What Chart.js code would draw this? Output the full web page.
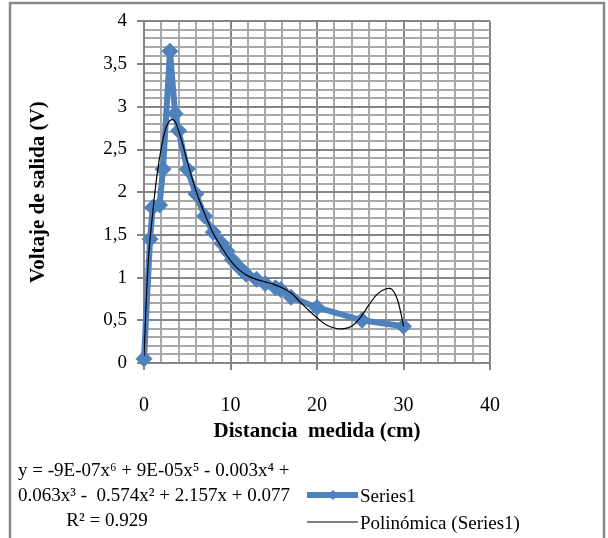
<!DOCTYPE html>
<html>
<head>
<meta charset="utf-8">
<script src="https://cdn.jsdelivr.net/npm/chart.js@4/dist/chart.umd.min.js"></script>
<style>
  html, body { margin: 0; padding: 0; background: #fff; }
  #wrap { width: 608px; height: 538px; }
</style>
</head>
<body>
<div id="wrap"><canvas id="grafico" width="608" height="538"></canvas></div>
<script>
// datos medidos (Series1)
const distancia = [0, 0.7, 1, 1.8, 2.2, 3, 3.6, 4, 5, 6, 7, 8, 9, 9.6, 10.2, 11, 11.8, 13, 14, 15.2, 15.8, 17, 20, 25.2, 30];
const voltaje = [0.05, 1.45, 1.82, 1.85, 2.27, 3.65, 2.92, 2.72, 2.27, 1.98, 1.72, 1.53, 1.40, 1.31, 1.21, 1.12, 1.04, 0.98, 0.93, 0.88, 0.86, 0.77, 0.65, 0.50, 0.43];

// linea de tendencia polinomica
const tendX = [0, 0.5, 1, 1.5, 2, 2.5, 3, 3.5, 4, 4.5, 5, 6, 7, 8, 9, 10, 11, 12, 13, 14, 15, 16, 17, 18, 19, 20, 21, 22, 23, 24, 25, 26, 27, 28, 28.7, 29.3, 29.7, 30];
const tendY = [0.08, 1.2, 1.75, 2.2, 2.52, 2.74, 2.84, 2.84, 2.72, 2.55, 2.36, 2.02, 1.75, 1.52, 1.35, 1.2, 1.09, 1.02, 0.98, 0.95, 0.92, 0.88, 0.82, 0.72, 0.62, 0.53, 0.45, 0.41, 0.40, 0.43, 0.53, 0.68, 0.81, 0.87, 0.86, 0.74, 0.58, 0.43];

const ejeXTicks = [0, 10, 20, 30, 40];
const ejeYTicks = [0, 0.5, 1, 1.5, 2, 2.5, 3, 3.5, 4];

const ecuacion = [
  "y = -9E-07x\u2076 + 9E-05x\u2075 - 0.003x\u2074 +",
  "0.063x\u00b3 -  0.574x\u00b2 + 2.157x + 0.077",
  "R\u00b2 = 0.929"
];

const azul = "#4f81bd";
const fuente = "'Liberation Serif', 'Times New Roman', serif";

function esMayorX(v) { return ejeXTicks.some(t => Math.abs(t - v) < 1e-6); }
function esMayorY(v) { return ejeYTicks.some(t => Math.abs(t - v) < 1e-6); }

// marco, ecuacion y leyenda dibujados a mano
const extras = {
  id: "extras",
  afterDraw(chart) {
    const ctx = chart.ctx;
    ctx.save();
    ctx.strokeStyle = "#878787";
    ctx.lineWidth = 2.5;
    ctx.strokeRect(10, 3, 594, 560);

    ctx.fillStyle = "#000";
    ctx.font = "19px " + fuente;
    ctx.textBaseline = "alphabetic";
    ctx.textAlign = "left";
    ctx.fillText(ecuacion[0], 18, 476);
    ctx.fillText(ecuacion[1], 18, 501);
    ctx.textAlign = "center";
    ctx.fillText(ecuacion[2], 107, 526);

    // leyenda
    const ds = chart.data.datasets;
    const filas = [495, 522];
    ds.forEach((d, i) => {
      const y = filas[i];
      ctx.strokeStyle = d.borderColor;
      ctx.lineWidth = d.borderWidth;
      ctx.beginPath();
      ctx.moveTo(307, y);
      ctx.lineTo(358, y);
      ctx.stroke();
      if (d.pointRadius > 0) {
        ctx.fillStyle = d.borderColor;
        ctx.beginPath();
        ctx.moveTo(333, y - 5);
        ctx.lineTo(338, y);
        ctx.lineTo(333, y + 5);
        ctx.lineTo(328, y);
        ctx.closePath();
        ctx.fill();
      }
      ctx.fillStyle = "#000";
      ctx.textAlign = "left";
      ctx.font = "19px " + fuente;
      ctx.fillText(d.label, 360, y + 7);
    });
    ctx.restore();
  }
};

new Chart(document.getElementById("grafico"), {
  type: "scatter",
  data: {
    datasets: [
      {
        label: "Series1",
        data: distancia.map((x, i) => ({ x: x, y: voltaje[i] })),
        showLine: true,
        borderColor: azul,
        backgroundColor: azul,
        borderWidth: 6,
        pointStyle: "rectRot",
        pointRadius: 8,
        pointBackgroundColor: azul,
        pointBorderColor: azul,
        pointBorderWidth: 1,
        clip: false,
        order: 2
      },
      {
        label: "Polinómica (Series1)",
        data: tendX.map((x, i) => ({ x: x, y: tendY[i] })),
        showLine: true,
        borderColor: "#000",
        borderWidth: 1.2,
        pointRadius: 0,
        tension: 0.4,
        order: 1
      }
    ]
  },
  options: {
    responsive: false,
    animation: false,
    layout: { padding: { left: 10, top: 16, right: 118, bottom: 90 } },
    plugins: {
      legend: { display: false },
      tooltip: { enabled: false }
    },
    scales: {
      x: {
        type: "linear",
        min: 0,
        max: 40,
        afterFit: s => { s.height = 85; },
        ticks: {
          stepSize: 2,
          autoSkip: false,
          maxRotation: 0,
          padding: 24,
          color: "#000",
          font: { family: fuente, size: 20 },
          callback: v => esMayorX(v) ? String(v) : ""
        },
        grid: {
          color: c => esMayorX(c.tick.value) ? "#858585" : "#a9a9a9",
          lineWidth: 2,
          tickLength: 7,
          tickColor: c => esMayorX(c.tick.value) ? "#858585" : "rgba(0,0,0,0)"
        },
        border: { color: "#858585", width: 2 },
        title: {
          display: true,
          text: "Distancia  medida (cm)",
          color: "#000",
          font: { family: fuente, size: 21, weight: "bold" },
          padding: { top: 0, bottom: 4 }
        }
      },
      y: {
        min: 0,
        max: 4,
        afterFit: s => { s.width = 134; },
        ticks: {
          stepSize: 0.1,
          autoSkip: false,
          padding: 10,
          color: "#000",
          font: { family: fuente, size: 19 },
          callback: v => esMayorY(v) ? String(Math.round(v * 10) / 10).replace(".", ",") : ""
        },
        grid: {
          color: c => esMayorY(c.tick.value) ? "#858585" : "#a9a9a9",
          lineWidth: 2,
          tickLength: 7,
          tickColor: c => esMayorY(c.tick.value) ? "#858585" : "rgba(0,0,0,0)"
        },
        border: { color: "#858585", width: 2 },
        title: {
          display: true,
          text: "Voltaje de salida (V)",
          color: "#000",
          font: { family: fuente, size: 21, weight: "bold" },
          padding: { top: 16, bottom: 0 }
        }
      }
    }
  },
  plugins: [extras]
});
</script>
</body>
</html>
